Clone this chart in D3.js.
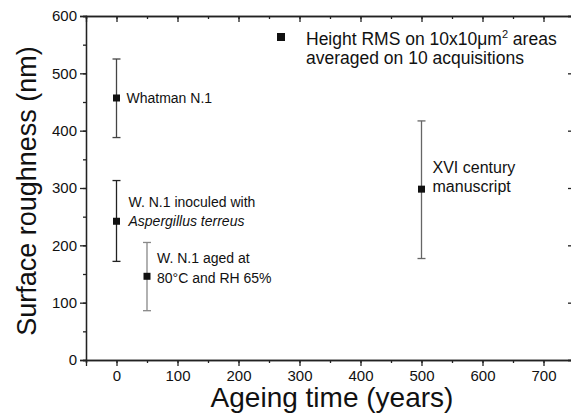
<!DOCTYPE html>
<html><head><meta charset="utf-8">
<script src="https://cdn.jsdelivr.net/npm/d3@7"></script>
<style>
body{margin:0;background:#fff;}
text{font-family:"Liberation Sans",Arial,sans-serif;fill:#111;}
</style></head>
<body><svg id="c" width="571" height="414"></svg>
<script>
const samples = ["Whatman N.1", "W. N.1 inoculed", "W. N.1 aged", "XVI century manuscript"];
const ageYears = [0, 0, 50, 500];
const roughness = [457, 242, 146, 298];
const errLow = [388, 172, 86, 177];
const errHigh = [525, 313, 205, 417];
const barColors = ["#444", "#222", "#888", "#666"];
const labelLines = [
  [{t:"Whatman N.1"}],
  [{t:"W. N.1 inoculed with"},{t:"Aspergillus terreus", it:true}],
  [{t:"W. N.1 aged at"},{t:"80°C and RH 65%"}],
  [{t:"XVI century"},{t:"manuscript"}]
];
const xTicks = [0,100,200,300,400,500,600,700];
const yTicks = [0,100,200,300,400,500,600];

const labelOffsets = [[10,5],[12,-14],[10,-13],[11,-16]];
const labelSizes = [14,14,14,16];
const labelGap = [20,19,20,19];

const svg = d3.select("#c");
const x = d3.scaleLinear().domain([-50,750]).range([86,574]);
const y = d3.scaleLinear().domain([0,600]).range([360,16]);

const axisCol = "#222";
const xMinor = d3.range(-50,751,50);
const yMinor = d3.range(0,601,50);

function styleAxis(g){ g.selectAll("path,line").attr("stroke",axisCol).attr("stroke-width",1.3); g.selectAll("text").style("font-size","15px").attr("fill","#111"); }

svg.append("g").attr("transform","translate(0,360)").call(d3.axisBottom(x).tickValues(xMinor).tickSize(3).tickFormat("")).call(styleAxis);
svg.append("g").attr("transform","translate(0,360)").call(d3.axisBottom(x).tickValues(xTicks).tickSize(6).tickPadding(4).tickFormat(d3.format("d"))).call(styleAxis);
svg.append("g").attr("transform","translate(0,16)").call(d3.axisTop(x).tickValues(xMinor).tickSize(-3).tickFormat("")).call(styleAxis);
svg.append("g").attr("transform","translate(0,16)").call(d3.axisTop(x).tickValues(xTicks).tickSize(-6).tickFormat("")).call(styleAxis);
svg.append("g").attr("transform","translate(86,0)").call(d3.axisLeft(y).tickValues(yMinor).tickSize(3).tickFormat("")).call(styleAxis);
svg.append("g").attr("transform","translate(86,0)").call(d3.axisLeft(y).tickValues(yTicks).tickSize(6).tickPadding(3).tickFormat(d3.format("d"))).call(styleAxis);
svg.append("g").attr("transform","translate(574,0)").call(d3.axisRight(y).tickValues(yMinor).tickSize(-3).tickFormat("")).call(styleAxis);
svg.append("g").attr("transform","translate(574,0)").call(d3.axisRight(y).tickValues(yTicks).tickSize(-6).tickFormat("")).call(styleAxis);

svg.append("text").attr("x",332).attr("y",407).attr("text-anchor","middle").style("font-size","28px").text("Ageing time (years)");
svg.append("text").attr("transform","translate(36,191) rotate(-90)").attr("text-anchor","middle").style("font-size","27px").text("Surface roughness (nm)");

const pts = samples.map((s,i)=>({s, x:ageYears[i], y:roughness[i], lo:errLow[i], hi:errHigh[i], c:barColors[i], lines:labelLines[i], off:labelOffsets[i], fs:labelSizes[i], gap:labelGap[i]}));
const g = svg.append("g");
pts.forEach(p=>{
  const cx = x(p.x);
  g.append("line").attr("x1",cx).attr("x2",cx).attr("y1",y(p.lo)).attr("y2",y(p.hi)).attr("stroke",p.c).attr("stroke-width",1.3);
  [p.lo,p.hi].forEach(v=>g.append("line").attr("x1",cx-4).attr("x2",cx+4).attr("y1",y(v)).attr("y2",y(v)).attr("stroke",p.c).attr("stroke-width",1.3));
  g.append("rect").attr("x",cx-3.5).attr("y",y(p.y)-3.5).attr("width",7).attr("height",7).attr("fill","#111");
  p.lines.forEach((l,j)=>{
    g.append("text").attr("x",cx+p.off[0]).attr("y",y(p.y)+p.off[1]+j*p.gap)
      .style("font-size",p.fs+"px").style("font-style",l.it?"italic":"normal").text(l.t);
  });
});

svg.append("rect").attr("x",277).attr("y",33).attr("width",8).attr("height",8).attr("fill","#111");
const lt = svg.append("text").attr("x",306).attr("y",45).style("font-size","17.5px");
lt.append("tspan").text("Height RMS on 10x10\u03bcm");
lt.append("tspan").attr("dy",-7).style("font-size","11px").text("2");
lt.append("tspan").attr("dy",7).text(" areas");
svg.append("text").attr("x",306).attr("y",64).style("font-size","17.5px").text("averaged on 10 acquisitions");
</script></body></html>
